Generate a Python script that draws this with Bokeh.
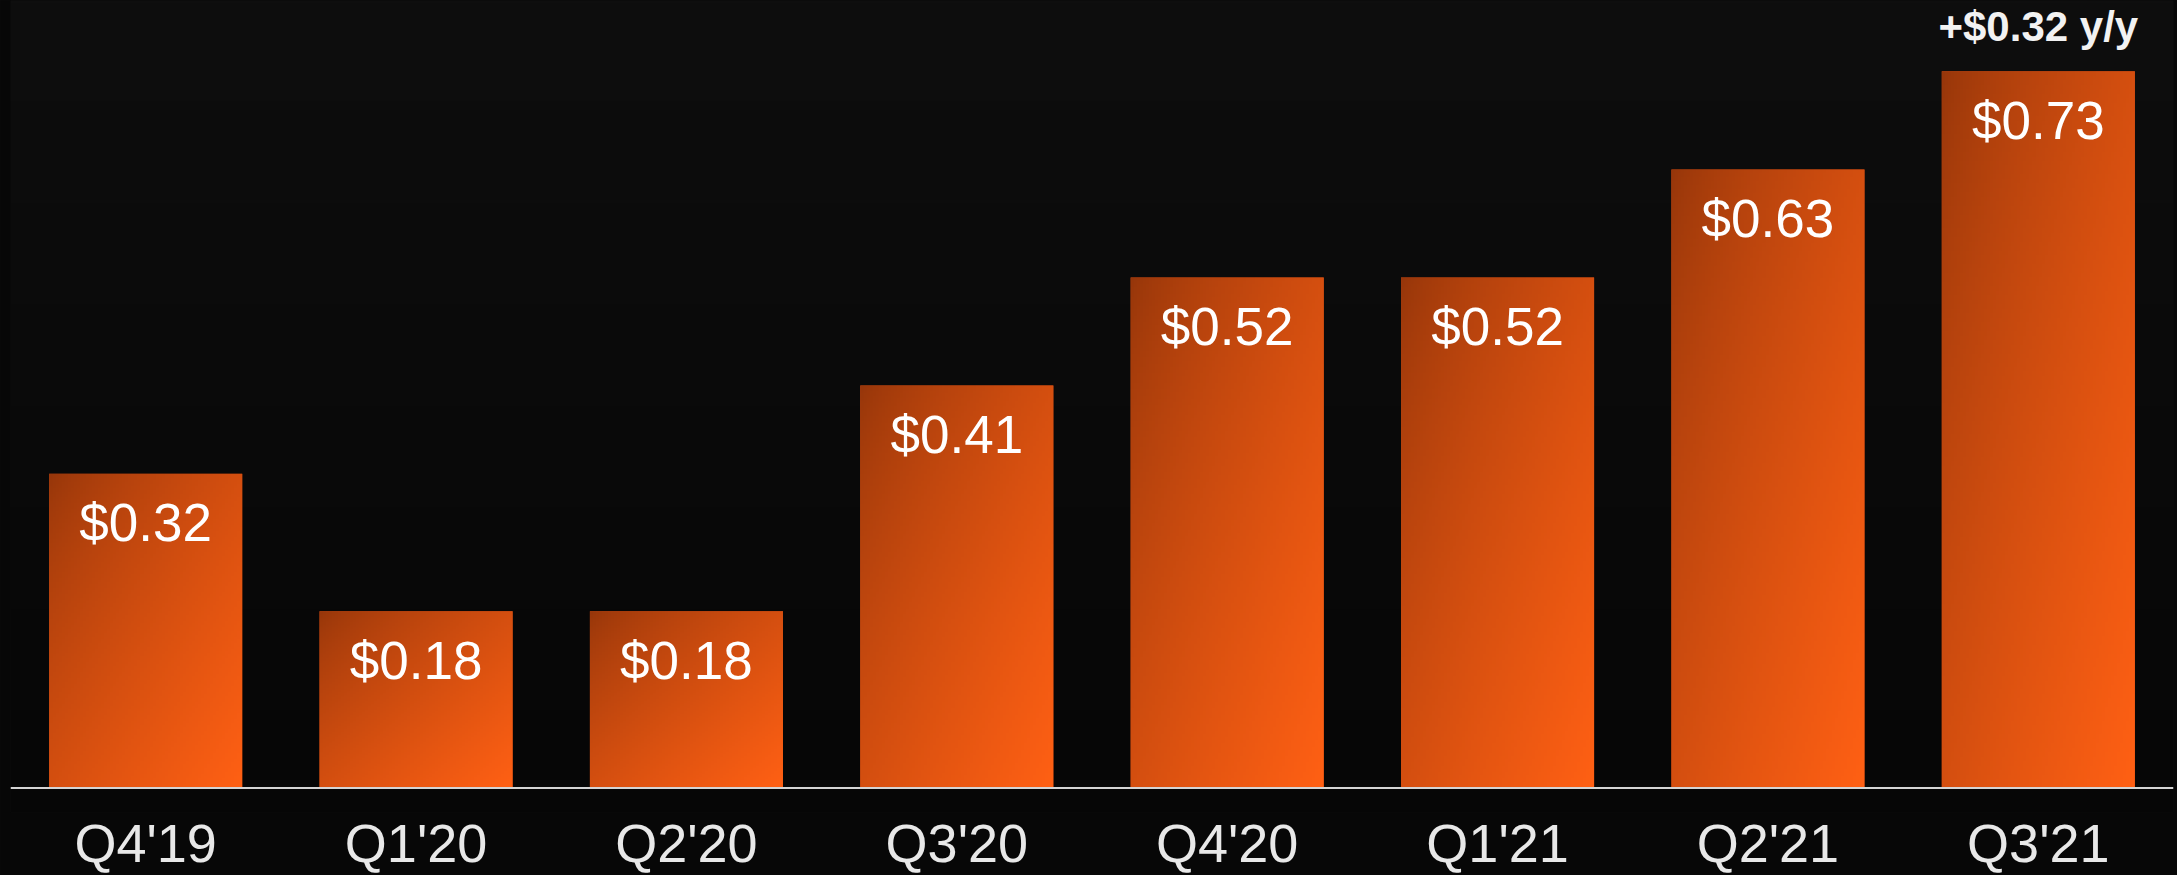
import numpy as np
from bokeh.plotting import figure
from bokeh.models import Range1d, FixedTicker, Span, ColumnDataSource
from bokeh.core.properties import value
from bokeh.embed import file_html
from bokeh.resources import INLINE

# ---- data ----
quarters = ["Q4'19", "Q1'20", "Q2'20", "Q3'20", "Q4'20", "Q1'21", "Q2'21", "Q3'21"]
eps = [0.32, 0.18, 0.18, 0.41, 0.52, 0.52, 0.63, 0.73]
eps_labels = ["$0.32", "$0.18", "$0.18", "$0.41", "$0.52", "$0.52", "$0.63", "$0.73"]
yoy_note = "+$0.32 y/y"

FONT = "Liberation Sans"
W, H = 2177, 875
X_END = 8.0
Y_TOP = 0.8022
Y_BOTTOM = -0.0250
BAR_W = 0.714

xs = [i + 0.5 for i in range(len(quarters))]

p = figure(width=W, height=H, output_backend="svg", toolbar_location=None,
           x_range=Range1d(0, X_END), y_range=Range1d(Y_BOTTOM, Y_TOP),
           y_axis_location=None, min_border_left=10, min_border_right=4,
           min_border_top=0, min_border_bottom=0)
p.background_fill_color = "#0b0b0b"
p.border_fill_color = "#070707"
p.outline_line_color = None
p.grid.visible = False

try:
    from bokeh.models import GlobalInlineStyleSheet
    p.stylesheets = [GlobalInlineStyleSheet(css="html,body{background:#0a0a0a;}")]
except Exception:
    pass

# background vertical gradient in the plot frame
rows = 256
tt = np.linspace(0, 1, rows)  # 0 bottom, 1 top
bg = np.zeros((rows, 2), dtype=np.uint32)
v = bg.view(dtype=np.uint8).reshape((rows, 2, 4))
c = (6 + 8 * tt).astype(np.uint8)
v[:, :, 0] = c[:, None]
v[:, :, 1] = c[:, None]
v[:, :, 2] = c[:, None]
v[:, :, 3] = 255
p.image_rgba(image=[bg], x=0, y=Y_BOTTOM, dw=X_END, dh=Y_TOP - Y_BOTTOM)

# bars (solid base)
src = ColumnDataSource(dict(x=xs, top=eps, q=quarters, lab=eps_labels,
                            left=[x - BAR_W / 2 for x in xs]))
p.vbar(x="x", top="top", bottom=0, width=BAR_W, source=src,
       fill_color="#d84c12", line_color=None)

# diagonal gradient overlay for each bar
gw, gh = 64, 160
u = np.linspace(0, 1, gw)[None, :]
vv = 1 - np.linspace(0, 1, gh)[:, None]  # distance from top
t = np.clip((u + vv) / 2, 0, 1) ** 0.75
c0 = np.array([150, 54, 10], dtype=float)
c1 = np.array([255, 96, 20], dtype=float)
grad = np.zeros((gh, gw), dtype=np.uint32)
gv = grad.view(dtype=np.uint8).reshape((gh, gw, 4))
for k in range(3):
    gv[:, :, k] = (c0[k] + (c1[k] - c0[k]) * t).astype(np.uint8)
gv[:, :, 3] = 255
p.image_rgba(image=[grad] * len(eps), x=src.data["left"], y=0,
             dw=BAR_W, dh=eps)

# baseline
p.add_layout(Span(location=0, dimension="width", line_color="#d4d4d4", line_width=2))

# value labels inside bars
p.text(x="x", y="top", text="lab", source=src, y_offset=49,
       text_align="center", text_baseline="alphabetic",
       text_font=value(FONT), text_font_size="53px", text_color="#ffffff")

# y/y annotation above last bar
p.text(x=[xs[-1]], y=[eps[-1]], text=[yoy_note], y_offset=-45,
       text_align="center", text_baseline="alphabetic",
       text_font=value(FONT), text_font_size="42px", text_font_style="bold",
       text_color="#f2f2f2")

# x axis labels
ax = p.xaxis[0]
ax.ticker = FixedTicker(ticks=xs)
ax.major_label_overrides = {x: q for x, q in zip(xs, quarters)}
ax.axis_line_color = None
ax.major_tick_line_color = None
ax.minor_tick_line_color = None
ax.major_tick_out = 0
ax.major_tick_in = 0
ax.major_label_standoff = 0
ax.major_label_text_font = FONT
ax.major_label_text_font_size = "54px"
ax.major_label_text_color = "#e8e8e8"

open("out.html", "w").write(file_html(p, INLINE))
